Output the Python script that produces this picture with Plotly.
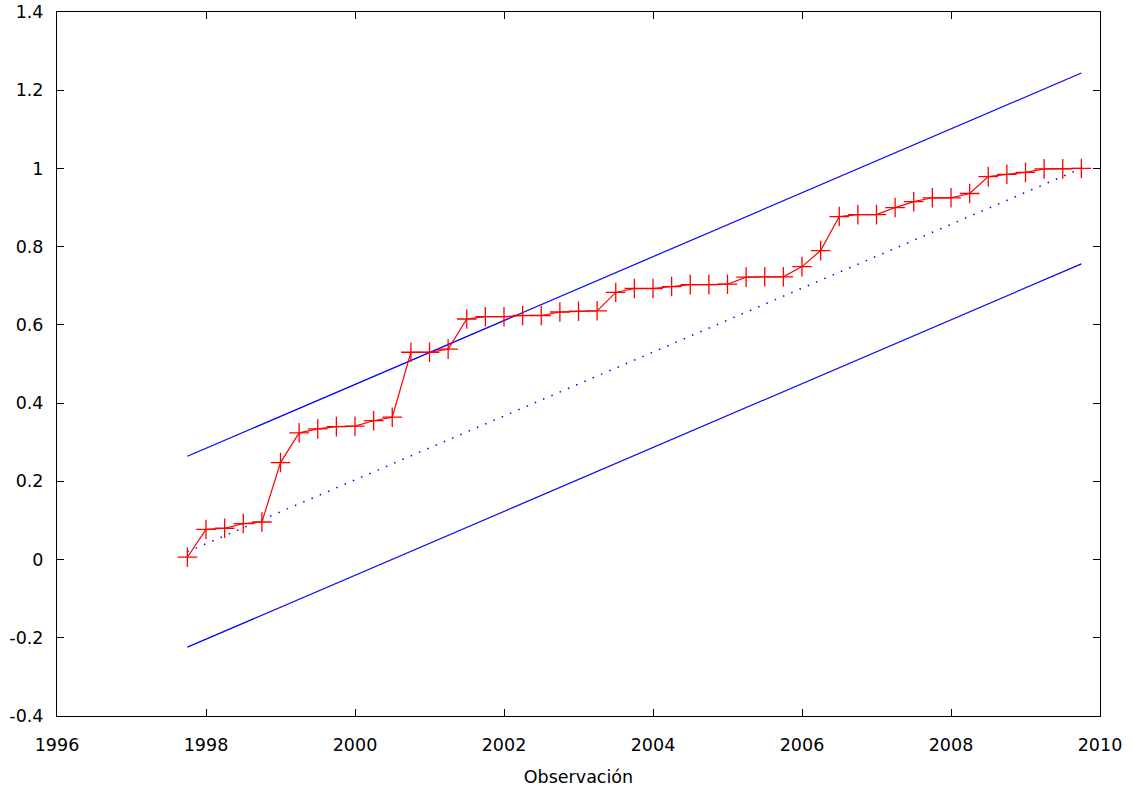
import plotly.graph_objects as go

# Quarterly observations 1997Q4 .. 2009Q4
start_year = 1997.75
step = 0.25
cusum_sq = [0.006, 0.077, 0.080, 0.092, 0.096, 0.248, 0.324, 0.334, 0.340, 0.341,
            0.355, 0.364, 0.530, 0.530, 0.538, 0.615, 0.621, 0.621, 0.624, 0.624,
            0.633, 0.635, 0.636, 0.683, 0.693, 0.693, 0.698, 0.703, 0.703, 0.704,
            0.722, 0.723, 0.723, 0.749, 0.790, 0.877, 0.882, 0.882, 0.900, 0.915,
            0.925, 0.925, 0.936, 0.979, 0.985, 0.990, 0.999, 0.999, 1.000]
obs = [start_year + step * i for i in range(len(cusum_sq))]

line_x = [1997.75, 2009.75]
expected = [0.020, 1.000]
upper = [0.264, 1.244]
lower = [-0.224, 0.756]

x_ticks = [1996, 1998, 2000, 2002, 2004, 2006, 2008, 2010]
y_ticks = [-0.4, -0.2, 0, 0.2, 0.4, 0.6, 0.8, 1, 1.2, 1.4]
y_labels = ["-0.4", "-0.2", "0", "0.2", "0.4", "0.6", "0.8", "1", "1.2", "1.4"]

fig = go.Figure()
fig.add_trace(go.Scatter(x=line_x, y=upper, mode="lines",
                         line=dict(color="#0000ff", width=1.2), showlegend=False))
fig.add_trace(go.Scatter(x=line_x, y=lower, mode="lines",
                         line=dict(color="#0000ff", width=1.2), showlegend=False))
fig.add_trace(go.Scatter(x=line_x, y=expected, mode="lines",
                         line=dict(color="#0000ff", width=1.5, dash="1.5px,7.5px"), showlegend=False))
fig.add_trace(go.Scatter(x=obs, y=cusum_sq, mode="lines+markers",
                         line=dict(color="#ff0000", width=1.2),
                         marker=dict(symbol="cross-thin", size=14,
                                     line=dict(color="#ff0000", width=1.3)),
                         showlegend=False))

axis_common = dict(showline=True, linecolor="black", linewidth=1, mirror="allticks",
                   ticks="inside", ticklen=7, tickcolor="black", showgrid=False,
                   zeroline=False, automargin=False, ticklabeloverflow="allow",
                   tickfont=dict(family="DejaVu Sans", size=17.5, color="black"))

fig.update_xaxes(range=[1996, 2010], tickvals=x_ticks, ticktext=[str(v) for v in x_ticks],
                 ticklabelstandoff=13,
                 title=dict(text="Observación", font=dict(family="DejaVu Sans", size=17.5, color="black"),
                            standoff=16),
                 **axis_common)
fig.update_yaxes(range=[-0.4, 1.4], tickvals=y_ticks, ticktext=y_labels,
                 ticklabelstandoff=9, **axis_common)

fig.update_layout(width=1134, height=790, margin=dict(l=57, r=34, t=12, b=74),
                  paper_bgcolor="white", plot_bgcolor="white",
                  font=dict(family="DejaVu Sans", size=17.5, color="black"))

# remove the page's default 8px body margin so the figure fills the window exactly
fig.write_html("out.html", config={"displayModeBar": False},
               post_script="document.body.style.margin='0';")
